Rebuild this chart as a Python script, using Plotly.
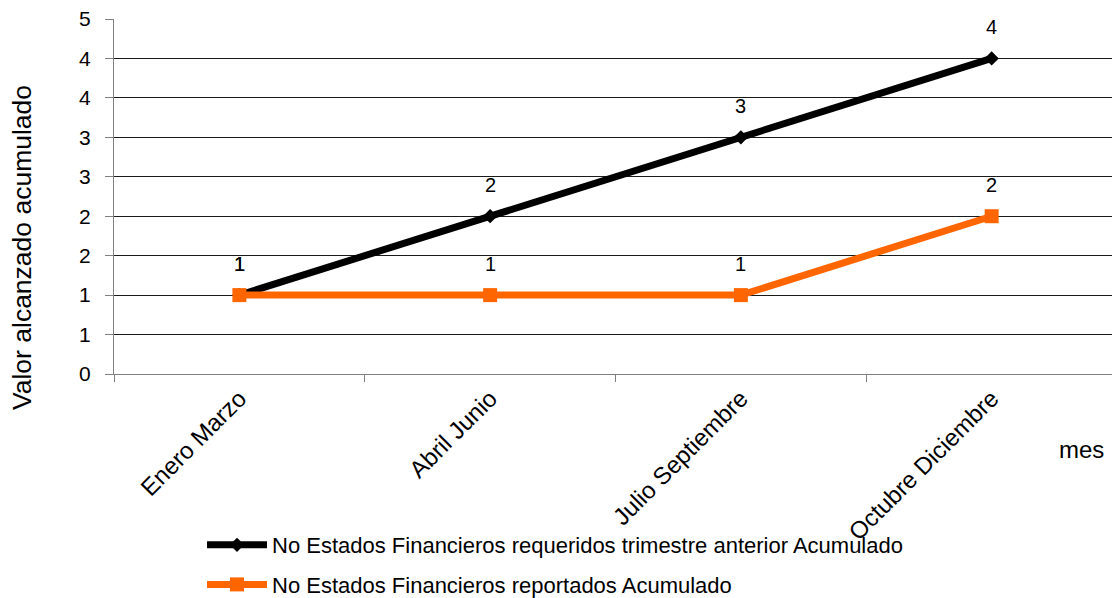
import plotly.graph_objects as go

categories = ["Enero Marzo", "Abril Junio", "Julio Septiembre", "Octubre Diciembre"]
requeridos = [1, 2, 3, 4]
reportados = [1, 1, 1, 2]
series_names = [
    "No Estados Financieros requeridos trimestre anterior Acumulado",
    "No Estados Financieros reportados Acumulado",
]
y_tickvals = [0, 0.5, 1, 1.5, 2, 2.5, 3, 3.5, 4, 4.5]
y_ticktext = ["0", "1", "1", "2", "2", "3", "3", "4", "4", "5"]

FONT = "Liberation Sans, Arial, sans-serif"

fig = go.Figure()
fig.add_trace(go.Scatter(
    x=categories, y=requeridos, name=series_names[0], mode="lines+markers",
    line=dict(color="#000000", width=7),
    marker=dict(symbol="diamond", size=11, color="#000000"),
    legendgroup="a",
))
fig.add_trace(go.Scatter(
    x=categories, y=reportados, name=series_names[1], mode="lines+markers",
    line=dict(color="#FF6600", width=7),
    marker=dict(symbol="square", size=14, color="#FF6600"),
    legendgroup="b",
))

annotations = []
for vals in (requeridos, reportados):
    for c, v in zip(categories, vals):
        annotations.append(dict(
            x=c, y=v, xref="x", yref="y", text=str(v), showarrow=False,
            yshift=31, font=dict(family=FONT, size=20, color="#000000"),
        ))

annotations.append(dict(
    x=(1106 - 114) / 998, y=(374 - 449) / 355, xref="paper", yref="paper",
    text="mes", showarrow=False, xanchor="right", yanchor="middle",
    font=dict(family=FONT, size=24, color="#000000"),
))
annotations.append(dict(
    x=(22 - 114) / 998, y=(374 - 248) / 355, xref="paper", yref="paper",
    text="Valor alcanzado acumulado", showarrow=False, textangle=-90,
    xanchor="center", yanchor="middle",
    font=dict(family=FONT, size=26.5, color="#000000"),
))

fig.update_layout(
    width=1112, height=598,
    margin=dict(l=114, r=0, t=19, b=224, autoexpand=False),
    paper_bgcolor="white", plot_bgcolor="white",
    font=dict(family=FONT, size=22, color="#000000"),
    showlegend=True,
    legend=dict(
        x=(202 - 114) / 998, y=(374 - 524) / 355, xanchor="left", yanchor="top",
        orientation="v", itemwidth=60, tracegroupgap=8,
        font=dict(family=FONT, size=22, color="#000000"),
        bgcolor="rgba(0,0,0,0)",
    ),
    annotations=annotations,
)
fig.update_xaxes(
    type="category", range=[-0.5, 3.48], tickson="boundaries",
    ticks="outside", ticklen=7, tickcolor="#808080", tickwidth=1,
    showline=True, linecolor="#808080", linewidth=1,
    showgrid=False, tickangle=-45, automargin=False,
    tickfont=dict(family=FONT, size=24, color="#000000"),
)
fig.update_yaxes(
    range=[0, 4.5], tickvals=y_tickvals, ticktext=y_ticktext,
    ticks="outside", ticklen=8, tickcolor="#808080", tickwidth=1,
    showline=True, linecolor="#808080", linewidth=1,
    showgrid=True, gridcolor="#1a1a1a", gridwidth=1, zeroline=False,
    ticklabelstandoff=10, automargin=False,
    tickfont=dict(family=FONT, size=21, color="#000000"),
)

fig.write_html("out.html")
